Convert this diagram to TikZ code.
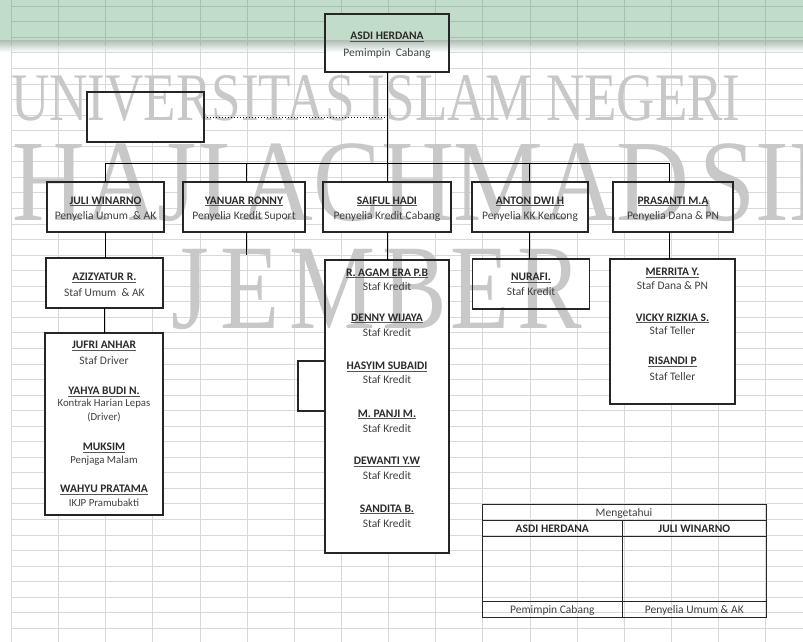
\documentclass[tikz,border=0pt]{standalone}
\usepackage{fontspec}
\usepackage{graphicx}
\setmainfont{Carlito}
\newfontfamily\wmfont{Liberation Serif}
\definecolor{gridcol}{HTML}{D9D9D9}
\definecolor{bandgrid}{HTML}{A9BFB1}
\definecolor{boxcol}{HTML}{262626}
\definecolor{namecol}{HTML}{2B2B2B}
\definecolor{titcol}{HTML}{404040}
\definecolor{ulcol}{HTML}{555555}
\definecolor{bandcol}{HTML}{C2DCCA}
\definecolor{shadowcol}{HTML}{A7B0AA}
\definecolor{wmcol}{HTML}{C8C8C8}
\newcommand\myul[1]{\leavevmode\setbox0=\hbox{#1}\rlap{\color{ulcol}\rule[-2.2pt]{\wd0}{0.9pt}}\box0}
\newcommand\fsn{\fontsize{11.5}{14}\selectfont}
\newcommand\fss{\fontsize{10.8}{13}\selectfont}
\tikzset{
  box/.style={fill=white, inner sep=0pt, outer sep=0pt},
  conn/.style={draw=black, line width=1pt},
  nm/.style={anchor=base, inner sep=0pt, text=namecol, font=\fsn\bfseries},
  ti/.style={anchor=base, inner sep=0pt, text=titcol, font=\fsn},
  tis/.style={anchor=base, inner sep=0pt, text=titcol, font=\fss},
  tb/.style={anchor=base, inner sep=0pt, text=namecol, font=\fsn\bfseries},
  wm/.style={anchor=base, inner sep=0pt, text=wmcol},
  gridline/.style={draw=gridcol, line width=0.8pt},
  tline/.style={draw=boxcol, line width=0.9pt},
  border/.style={draw=boxcol, line width=1.5pt}
}
\newcommand\nml[4]{\node[nm] (#1) at (#2,#3) {\myul{#4}};}
\newcommand\ttl[4]{\node[ti] (#1) at (#2,#3) {#4};}
\newcommand\tts[4]{\node[tis] (#1) at (#2,#3) {#4};}
\newcommand\bandfill{%
  \fill[bandcol] (0,0) rectangle (803,40);
  \foreach \i in {0,...,11} {
    \pgfmathsetmacro\op{1-\i/12}
    \fill[shadowcol!70!bandcol, opacity=\op] (0,{40+\i}) rectangle (803,{41+\i});
  }}
\begin{document}
\begin{tikzpicture}[x=1pt,y=-1pt]
\useasboundingbox (0,0) rectangle (803,642);
\fill[white] (0,0) rectangle (803,642);
\bandfill
% spreadsheet grid
\foreach \k in {0,...,16} \draw[gridline] ({11.5+47.13*\k},0) -- ({11.5+47.13*\k},642);
\foreach \k in {-5,...,35} \draw[gridline] (11.5,{84+15.55*\k}) -- (803,{84+15.55*\k});
\begin{scope}
\clip (0,0) rectangle (803,46);
\foreach \k in {0,...,16} \draw[bandgrid, line width=0.8pt] ({11.5+47.13*\k},0) -- ({11.5+47.13*\k},46);
\foreach \k in {-5,...,-3} \draw[bandgrid, line width=0.8pt] (11.5,{84+15.55*\k}) -- (803,{84+15.55*\k});
\end{scope}

\coordinate (busL) at (105.5,163);
\coordinate (busR) at (669,163);
\coordinate (yb) at (246.7,163);
\coordinate (ab) at (529,163);
\coordinate (ystub) at (246.7,255);

% box fills
\node[box, minimum width=124pt, minimum height=58pt] (asdi) at (387,43) {};
\begin{scope}
\clip (asdi.north west) rectangle (asdi.south east);
\bandfill
\end{scope}
\node[box, minimum width=117pt, minimum height=50pt] (blank) at (145.5,117) {};
\node[box, minimum width=117pt, minimum height=50pt] (juli) at (105.5,207) {};
\node[box, minimum width=122pt, minimum height=50pt] (yanuar) at (244,207) {};
\node[box, minimum width=128pt, minimum height=50pt] (saiful) at (387,207) {};
\node[box, minimum width=116pt, minimum height=50pt] (anton) at (530,207) {};
\node[box, minimum width=120pt, minimum height=50pt] (prasanti) at (673,207) {};
\node[box, minimum width=117pt, minimum height=50pt] (aziz) at (104.4,283) {};
\node[box, minimum width=118pt, minimum height=182pt] (jufri) at (104,424) {};
\node[box, border, minimum width=42pt, minimum height=50pt] (side) at (319,386) {};
\node[box, minimum width=124pt, minimum height=293pt] (stafk) at (387,406.5) {};
\node[box, minimum width=117pt, minimum height=50pt] (nurafi) at (531,284) {};
\node[box, minimum width=125pt, minimum height=145pt] (merrita) at (672.5,331.5) {};

% watermark
\begin{scope}
\clip (0,0) rectangle (803,642);
\node[wm, font=\wmfont\fontsize{68}{68}\selectfont] (wm1) at (376,120) {\scalebox{0.78}[1]{UNIVERSITAS ISLAM NEGERI}};
\node[wm, anchor=base west, font=\wmfont\fontsize{116}{116}\selectfont] (wm2) at (12,220) {\scalebox{0.87}[1]{HAJI\hspace{0.1em}ACHMAD\hspace{0.1em}SIDDIQ}};
\foreach \c/\xx [count=\i] in {J/190,E/250,M/333,B/415,E/480,R/550}
  \node[wm, font=\wmfont\fontsize{121}{121}\selectfont] (wmj\i) at (\xx,328) {\scalebox{0.8}[1]{\c}};
\end{scope}

% box borders
\foreach \n in {asdi,blank,juli,yanuar,saiful,anton,prasanti,aziz,jufri,stafk,nurafi,merrita}
  \draw[border] (\n.north west) rectangle (\n.south east);

% connectors
\draw[conn] (asdi.south) -- (saiful.north);
\draw[conn] (busL) -- (busR);
\draw[conn] (busL) -- (busL |- juli.north);
\draw[conn] (yb) -- (yb |- yanuar.north);
\draw[conn] (ab) -- (ab |- anton.north);
\draw[conn] (busR) -- (busR |- prasanti.north);
\draw[black, line width=1pt, dotted] (blank.east) -- (blank.east -| asdi.south);
\draw[conn] (juli.south) -- (juli.south |- aziz.north);
\draw[conn] (aziz.south) -- (aziz.south |- jufri.north);
\draw[conn] (ystub |- yanuar.south) -- (ystub);
\draw[conn] (saiful.south) -- (stafk.north);
\draw[conn] (ab |- anton.south) -- (ab |- nurafi.north);
\draw[conn] (busR |- prasanti.south) -- (busR |- merrita.north);

% texts
\nml{n1}{387}{40}{ASDI HERDANA}
\ttl{t1}{387}{56.5}{Pemimpin\ \ Cabang}
\nml{n2}{105.5}{204}{JULI WINARNO}
\ttl{t2}{105.5}{219.5}{Penyelia Umum \ \& AK}
\nml{n3}{244}{204}{YANUAR RONNY}
\ttl{t3}{244}{219.5}{Penyelia Kredit Suport}
\nml{n4}{387}{204}{SAIFUL HADI}
\ttl{t4}{387}{219.5}{Penyelia Kredit Cabang}
\nml{n5}{530}{204}{ANTON DWI H}
\ttl{t5}{530}{219.5}{Penyelia KK Kencong}
\nml{n6}{673}{204}{PRASANTI M.A}
\ttl{t6}{673}{219.5}{Penyelia Dana \& PN}
\nml{n7}{104.4}{280.5}{AZIZYATUR R.}
\ttl{t7}{104.4}{296}{Staf Umum \ \& AK}
\nml{n8}{104}{348.7}{JUFRI ANHAR}
\ttl{t8}{104}{364.4}{Staf Driver}
\nml{n9}{104}{394.4}{YAHYA BUDI N.}
\tts{t9}{104}{406.7}{Kontrak Harian Lepas}
\tts{t9b}{104}{420.4}{(Driver)}
\nml{n10}{104}{450.7}{MUKSIM}
\tts{t10}{104}{463.7}{Penjaga Malam}
\nml{n11}{104}{492.7}{WAHYU PRATAMA}
\tts{t11}{104}{506.7}{IKJP Pramubakti}
\nml{n12}{387}{276}{R. AGAM ERA P.B}
\ttl{t12}{387}{290.4}{Staf Kredit}
\nml{n13}{387}{321}{DENNY WIJAYA}
\ttl{t13}{387}{336}{Staf Kredit}
\nml{n14}{387}{369.4}{HASYIM SUBAIDI}
\ttl{t14}{387}{383.7}{Staf Kredit}
\nml{n15}{387}{417}{M. PANJI M.}
\ttl{t15}{387}{432}{Staf Kredit}
\nml{n16}{387}{464.4}{DEWANTI Y.W}
\ttl{t16}{387}{479.7}{Staf Kredit}
\nml{n17}{387}{512}{SANDITA B.}
\ttl{t17}{387}{527.7}{Staf Kredit}
\nml{n18}{531}{280.4}{NURAFI.}
\ttl{t18}{531}{295.4}{Staf Kredit}
\nml{n19}{672.5}{275.4}{MERRITA Y.}
\ttl{t19}{672.5}{289.7}{Staf Dana \& PN}
\nml{n20}{672.5}{321}{VICKY RIZKIA S.}
\ttl{t20}{672.5}{334.4}{Staf Teller}
\nml{n21}{672.5}{364.4}{RISANDI P}
\ttl{t21}{672.5}{380.4}{Staf Teller}

% signature table
\draw[tline] (482,504) rectangle (766,617);
\draw[tline] (482,520) -- (766,520);
\draw[tline] (482,536) -- (766,536);
\draw[tline] (482,601) -- (766,601);
\draw[tline] (622.7,520) -- (622.7,617);
\node[ti] (mg) at (624,516.4) {Mengetahui};
\node[tb] (tA) at (552.3,532.7) {ASDI HERDANA};
\node[tb] (tJ) at (694.3,532.7) {JULI WINARNO};
\node[ti] (tP) at (552.3,613) {Pemimpin Cabang};
\node[ti] (tU) at (694.3,613) {Penyelia Umum \& AK};
\end{tikzpicture}
\end{document}
